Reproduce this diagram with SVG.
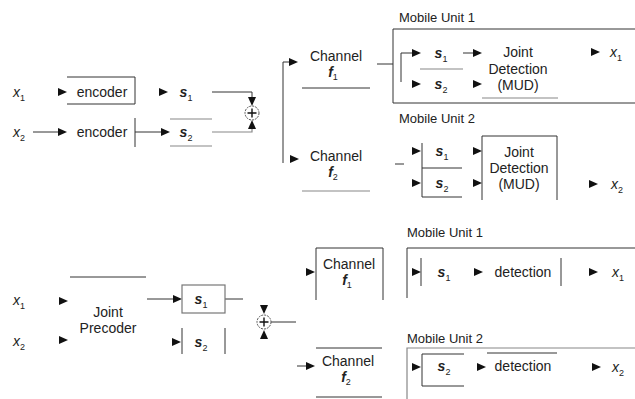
<svg xmlns="http://www.w3.org/2000/svg" xmlns:xlink="http://www.w3.org/1999/xlink" width="635" height="399" viewBox="0 0 635 399">
<style>
text{font-family:"Liberation Sans",Arial,sans-serif;font-size:14px;fill:#222}
.c{text-anchor:middle}
.mu{font-size:13px}
.v{font-style:italic}
.s{font-style:italic;font-weight:bold}
.sub{font-size:9px;font-style:normal;font-weight:normal}
.ln{fill:none;stroke:#333;stroke-width:1}
.gr{fill:none;stroke:#888;stroke-width:1.2}
.ah{fill:#111}
.circ{fill:#fff;stroke:#555;stroke-width:1;stroke-dasharray:2 1}
.plus{fill:none;stroke:#111;stroke-width:1.4}
</style>
<defs>
<path id="ar" d="M-9,-4 L0,0 L-9,4 Z" class="ah"/>
<path id="ad" d="M-4,-9 L0,0 L4,-9 Z" class="ah"/>
<path id="au" d="M-4,9 L0,0 L4,9 Z" class="ah"/>
</defs>

<g id="connectors">
<use xlink:href="#ar" x="67" y="92"/>
<use xlink:href="#ar" x="168" y="92"/>
<path class="ln" d="M212,92 H252 V100"/>
<use xlink:href="#ad" x="252" y="106"/>
<path class="ln" d="M33,132 H60"/>
<use xlink:href="#ar" x="67" y="132"/>
<path class="ln" d="M135,132 H163"/>
<use xlink:href="#ar" x="170" y="132"/>
<path class="gr" d="M212,132 H252 V127"/>
<use xlink:href="#au" x="252" y="120"/>
<path class="ln" d="M283,163 V62 H290"/>
<use xlink:href="#ar" x="298" y="62"/>
<use xlink:href="#ar" x="299" y="159"/>
<path class="ln" d="M377,64 H393"/>
<path class="ln" d="M395,164 H404"/>
<path class="ln" d="M401,82 V53 H413"/>
<use xlink:href="#ar" x="421" y="53"/>
<path class="ln" d="M463,53 H475"/>
<use xlink:href="#ar" x="482" y="53"/>
<use xlink:href="#ar" x="421" y="84"/>
<use xlink:href="#ar" x="482" y="84"/>
<use xlink:href="#ar" x="600" y="52"/>
<use xlink:href="#ar" x="421" y="151"/>
<use xlink:href="#ar" x="421" y="183"/>
<use xlink:href="#ar" x="482" y="151"/>
<use xlink:href="#ar" x="482" y="183"/>
<use xlink:href="#ar" x="598" y="184"/>
<use xlink:href="#ar" x="68" y="301"/>
<use xlink:href="#ar" x="68" y="340"/>
<path class="ln" d="M147,299 H174"/>
<use xlink:href="#ar" x="182" y="299"/>
<path class="ln" d="M225,299 H243"/>
<use xlink:href="#ar" x="181" y="342"/>
<use xlink:href="#ad" x="264" y="314"/>
<use xlink:href="#au" x="264" y="330"/>
<path class="ln" d="M271,322 H296"/>
<use xlink:href="#ar" x="315" y="272"/>
<path class="ln" d="M297,366 H307"/>
<use xlink:href="#ar" x="315" y="366"/>
<use xlink:href="#ar" x="421" y="272"/>
<use xlink:href="#ar" x="483" y="272"/>
<use xlink:href="#ar" x="598" y="272"/>
<use xlink:href="#ar" x="421" y="367"/>
<use xlink:href="#ar" x="486" y="367"/>
<use xlink:href="#ar" x="601" y="367"/>
</g>

<g id="x1-top"><text x="13" y="97"><tspan class="v">x</tspan><tspan class="sub" dy="4">1</tspan></text></g>
<g id="x2-top"><text x="13" y="137"><tspan class="v">x</tspan><tspan class="sub" dy="4">2</tspan></text></g>

<g id="encoder1">
<path class="ln" d="M67,77 H135 V104 H67"/>
<text class="c" x="102" y="97">encoder</text>
</g>
<g id="encoder2">
<path class="ln" d="M135,118 V147"/>
<text class="c" x="102" y="137">encoder</text>
</g>
<g id="s1-top"><text class="c s" x="186" y="97">s<tspan class="sub" dy="4">1</tspan></text></g>
<g id="s2-top">
<path class="gr" d="M170,119 H212 M170,146 H212"/>
<text class="c s" x="186" y="137">s<tspan class="sub" dy="4">2</tspan></text>
</g>
<g id="sum-top">
<circle class="circ" cx="252" cy="113" r="7"/>
<path class="plus" d="M247.5,113 H256.5 M252,108.5 V117.5"/>
</g>

<g id="channel-f1-top">
<text class="c" x="336" y="61">Channel</text>
<text class="c s" x="333" y="77">f<tspan class="sub" dy="3">1</tspan></text>
<path class="ln" d="M302,88 H370"/>
</g>
<g id="channel-f2-top">
<text class="c" x="336" y="161">Channel</text>
<text class="c s" x="333" y="177">f<tspan class="sub" dy="3">2</tspan></text>
<path class="gr" d="M302,191 H370"/>
</g>

<g id="mu1-top">
<text class="mu" x="399" y="22">Mobile Unit 1</text>
<path class="ln" d="M640,29 H393 V103 H640"/>
<text class="c s" x="441" y="58">s<tspan class="sub" dy="4">1</tspan></text>
<path class="gr" d="M420,69 H463"/>
<text class="c s" x="441" y="89">s<tspan class="sub" dy="4">2</tspan></text>
<text class="c" x="518" y="57">Joint</text>
<text class="c" x="518" y="74">Detection</text>
<text class="c" x="518" y="90">(MUD)</text>
<path class="gr" d="M482,98 H558"/>
<text x="610" y="57"><tspan class="v">x</tspan><tspan class="sub" dy="4">1</tspan></text>
</g>

<g id="mu2-top">
<text class="mu" x="399" y="123">Mobile Unit 2</text>
<path class="ln" d="M422,143 V197 H462 M422,168 H462"/>
<text class="c s" x="442" y="156">s<tspan class="sub" dy="4">1</tspan></text>
<text class="c s" x="442" y="188">s<tspan class="sub" dy="4">2</tspan></text>
<path class="ln" d="M482,200 V136 H557 V200"/>
<text class="c" x="519" y="157">Joint</text>
<text class="c" x="519" y="173">Detection</text>
<text class="c" x="519" y="189">(MUD)</text>
<text x="611" y="189"><tspan class="v">x</tspan><tspan class="sub" dy="4">2</tspan></text>
</g>

<g id="x1-bot"><text x="13" y="305"><tspan class="v">x</tspan><tspan class="sub" dy="4">1</tspan></text></g>
<g id="x2-bot"><text x="13" y="346"><tspan class="v">x</tspan><tspan class="sub" dy="4">2</tspan></text></g>

<g id="joint-precoder">
<path class="ln" d="M70,277 H146"/>
<text class="c" x="108" y="317">Joint</text>
<text class="c" x="108" y="333">Precoder</text>
</g>
<g id="s1-bot">
<rect x="182" y="285" width="43" height="28" style="fill:none;stroke:#777;stroke-width:1.2"/>
<text class="c s" x="201" y="304">s<tspan class="sub" dy="4">1</tspan></text>
</g>
<g id="s2-bot">
<path class="ln" d="M182,328 V354 M225,328 V354"/>
<text class="c s" x="201" y="347">s<tspan class="sub" dy="4">2</tspan></text>
</g>
<g id="sum-bot">
<circle class="circ" cx="264" cy="322" r="7"/>
<path class="plus" d="M259.5,322 H268.5 M264,317.5 V326.5"/>
</g>

<g id="channel-f1-bot">
<path class="ln" d="M316,300 V248 H383 V300"/>
<text class="c" x="349" y="269">Channel</text>
<text class="c s" x="347" y="285">f<tspan class="sub" dy="3">1</tspan></text>
</g>
<g id="channel-f2-bot">
<path class="ln" d="M316,348 H382 M316,397 H382"/>
<text class="c" x="348" y="366">Channel</text>
<text class="c s" x="346" y="382">f<tspan class="sub" dy="3">2</tspan></text>
</g>

<g id="mu1-bot">
<text class="mu" x="407" y="237">Mobile Unit 1</text>
<path class="ln" d="M407,298 V248 H640"/>
<path class="ln" d="M421,258 V286"/>
<text class="c s" x="444" y="277">s<tspan class="sub" dy="4">1</tspan></text>
<text class="c" x="523" y="277">detection</text>
<path class="ln" d="M561,258 V286"/>
<text x="612" y="277"><tspan class="v">x</tspan><tspan class="sub" dy="4">1</tspan></text>
</g>

<g id="mu2-bot">
<text class="mu" x="407" y="343">Mobile Unit 2</text>
<path class="gr" d="M407,399 V348 H640"/>
<path class="ln" d="M464,354 H422 V386 H464"/>
<text class="c s" x="444" y="371">s<tspan class="sub" dy="4">2</tspan></text>
<path class="ln" d="M487,353 H557"/>
<text class="c" x="523" y="371">detection</text>
<text x="612" y="372"><tspan class="v">x</tspan><tspan class="sub" dy="4">2</tspan></text>
</g>
</svg>
